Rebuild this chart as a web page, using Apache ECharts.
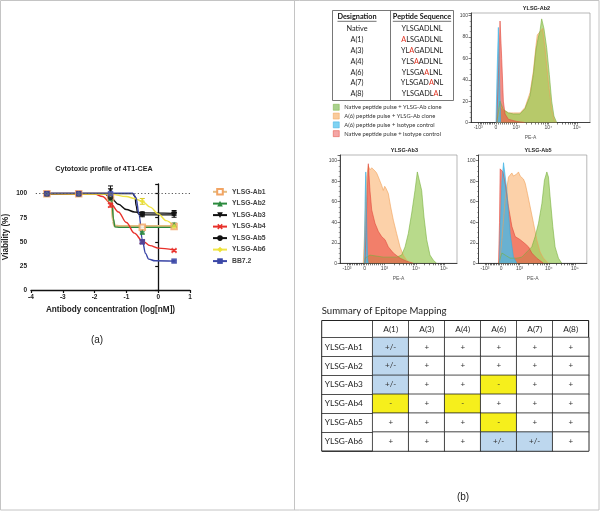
<!DOCTYPE html>
<html><head><meta charset="utf-8">
<script src="https://cdn.jsdelivr.net/npm/echarts@6/dist/echarts.min.js"></script>
<style>html,body{margin:0;padding:0;background:#fff}#c{width:601px;height:512px}</style>
</head><body><div id="c"></div><script>
// ================= DATA: panel (a) =================
const concX = [-3.5, -2.5, -1.5, -0.5, 0.5];
const seriesNames = ['YLSG-Ab1','YLSG-Ab2','YLSG-Ab3','YLSG-Ab4','YLSG-Ab5','YLSG-Ab6','BB7.2'];
const viabAb1 = [100, 100, 96, 65, 66];
const viabAb2 = [100, 100, 95, 60, 68];
const viabAb3 = [100, 100, 103, 78, 78];
const viabAb4 = [100, 100, 88, 50, 41];
const viabAb5 = [100, 100, 96, 79, 80];
const viabAb6 = [100, 100, 99, 92, 66];
const viabBB72 = [100, 100, 100, 50, 30];
const errAb1 = [0, 0, 1, 1.5, 2];
const errAb2 = [0, 0, 1, 1, 1.5];
const errAb3 = [0, 0, 5, 2, 2.5];
const errAb4 = [0, 0, 2, 1.5, 1];
const errAb5 = [0, 0, 1.5, 2, 2.5];
const errAb6 = [0, 0, 1, 3, 1.5];
const errBB72 = [0, 0, 0, 2, 1];
// fitted curves
const curveAb1 = [[-3.5,100],[-1.6,100],[-1.5,99],[-1.46,90],[-1.42,72],[-1.37,66.5],[-1.2,66],[0.5,66]];
const curveAb2 = [[-3.5,100],[-1.6,100],[-1.5,99.5],[-1.45,91],[-1.41,74],[-1.36,65.5],[-1.2,65],[0.5,65]];
const curveAb3 = [[-3.5,100],[-0.8,100],[-0.73,97],[-0.69,87],[-0.65,80],[-0.58,78.3],[-0.4,78],[0.5,78]];
const curveAb4 = [[-3.5,100],[-2,99.5],[-1.75,97],[-1.5,90],[-1.25,81],[-1,70],[-0.75,59],[-0.5,51],[-0.25,46],[0,43.5],[0.5,41.5]];
const curveAb5 = [[-3.5,100],[-1.7,100],[-1.5,96],[-1.25,89],[-1,83.5],[-0.75,81],[-0.5,80],[0.5,79.5]];
const curveAb6 = [[-3.5,100],[-1.5,99.5],[-1,97],[-0.75,95],[-0.5,92],[-0.25,86],[0,79],[0.25,72],[0.5,66]];
const curveBB72 = [[-3.5,100.5],[-0.8,100.5],[-0.7,96],[-0.6,78],[-0.5,52],[-0.4,38],[-0.3,32],[-0.1,30.3],[0.5,30]];
const yTicksA = [0, 25, 50, 75, 100];
const xTicksA = [-4, -3, -2, -1, 0, 1];

// ================= DATA: panel (b) peptides =================
const designations = ['Native','A(1)','A(3)','A(4)','A(6)','A(7)','A(8)'];
const sequences = ['YLSGADLNL','ALSGADLNL','YLAGADLNL','YLSAADLNL','YLSGAALNL','YLSGADANL','YLSGADLAL'];
const mutatedPos = [-1, 0, 2, 3, 5, 6, 7];

// ================= DATA: flow histograms (x = display position 0-100 on biexponential PE-A axis, y = % of max) =================
const flowNames = ['Native peptide pulse + YLSG-Ab clone','A(6) peptide pulse + YLSG-Ab clone','A(6) peptide pulse + isotype control','Native peptide pulse + isotype control'];
const peTickLabels = ['-10³','0','10³','10⁴','10⁵'];
const peTickPos = [6, 21, 38, 65, 89];
const histTitles = ['YLSG-Ab2','YLSG-Ab3','YLSG-Ab5'];
const ab2Green = [[21.6,0],[23.0,10],[24.4,20],[27.2,12],[31.4,9],[35.6,8],[41.2,8],[45.4,13],[49.6,25],[52.4,45],[54.6,68],[56.6,80],[58.0,86],[59.4,97],[61.3,88],[63.6,70],[65.8,45],[67.8,20],[69.7,6],[72.0,0]];
const ab2Orange = [[21.6,0],[23.0,8],[24.4,15],[27.2,12],[31.4,9],[35.6,9],[41.2,9],[45.4,14],[49.6,28],[52.4,48],[54.6,72],[55.7,82],[58.0,85],[60.2,88],[62.2,70],[65.0,38],[67.8,12],[70.0,2],[71.5,0]];
const ab2Blue = [[21.0,0],[22.0,50],[23.0,89],[24.0,40],[24.9,0]];
const ab2Red = [[21.6,0],[23.5,60],[24.4,95],[25.8,60],[27.2,20],[28.6,8],[31.4,3],[38.4,1],[45.0,0]];
const ab3Green = [[20.8,0],[21.4,5],[25.6,8],[37.0,6],[48.4,6],[52.7,8],[55.6,16],[58.4,29],[61.3,49],[64.1,71],[66.1,89],[67.8,89],[69.8,71],[71.8,45],[74.1,23],[76.9,8],[79.8,3],[82.6,0]];
const ab3Orange = [[19.9,0],[21.4,40],[22.8,84],[24.2,95],[25.6,91],[27.1,93],[28.5,94],[29.9,90],[31.3,88],[32.8,84],[34.2,80],[35.6,76],[37.0,71],[38.2,75],[39.3,73],[40.3,74],[41.3,68],[43.3,55],[45.6,42],[48.4,29],[51.3,16],[54.1,8],[57.0,3],[59.8,0]];
const ab3Blue = [[20.8,0],[21.4,60],[22.0,89],[22.8,40],[23.5,5],[24.2,0]];
const ab3Red = [[21.4,0],[23.0,60],[24.2,97],[25.6,71],[27.1,52],[29.9,39],[32.8,31],[35.6,26],[38.5,23],[41.3,16],[45.6,10],[51.3,5],[57.0,2],[62.7,0]];
const ab5Green = [[18.5,0],[21.6,10],[24.6,8],[29.2,5],[35.4,5],[40.0,6],[44.6,11],[49.2,16],[52.3,26],[55.4,39],[58.5,58],[60.9,81],[63.1,89],[64.6,84],[66.1,65],[68.6,36],[70.7,16],[73.8,5],[76.9,0]];
const ab5Orange = [[19.4,0],[21.6,23],[24.6,62],[27.7,84],[30.8,88],[32.3,85],[33.9,84],[35.4,87],[36.9,89],[38.5,85],[40.0,86],[41.5,82],[43.1,78],[45.2,68],[47.7,55],[50.8,39],[53.8,23],[56.9,11],[60.0,5],[64.6,0]];
const ab5Blue = [[19.4,0],[20.0,30],[21.6,80],[23.1,98],[24.6,85],[26.2,71],[29.2,29],[32.3,6],[35.4,0]];
const ab5Red = [[18.5,0],[19.4,40],[20.0,92],[22.5,89],[24.6,78],[27.7,55],[30.8,36],[33.9,26],[38.5,23],[43.1,19],[46.2,16],[49.2,10],[53.8,5],[60.0,0]];

// ================= DATA: epitope mapping table =================
const mutantCols = ['A(1)','A(3)','A(4)','A(6)','A(7)','A(8)'];
const abRows = ['YLSG-Ab1','YLSG-Ab2','YLSG-Ab3','YLSG-Ab4','YLSG-Ab5','YLSG-Ab6'];
const rowAb1 = ['+/-','+','+','+','+','+'];
const rowAb2 = ['+/-','+','+','+','+','+'];
const rowAb3 = ['+/-','+','+','-','+','+'];
const rowAb4 = ['-','+','-','+','+','+'];
const rowAb5 = ['+','+','+','-','+','+'];
const rowAb6 = ['+','+','+','+/-','+/-','+'];

// ================= BUILD =================
const chart = echarts.init(document.getElementById('c'), null, {renderer:'canvas'});
const FA = 'Liberation Sans';
const FB = 'Lato';

const points = [viabAb1,viabAb2,viabAb3,viabAb4,viabAb5,viabAb6,viabBB72];
const errs = [errAb1,errAb2,errAb3,errAb4,errAb5,errAb6,errBB72];
const curves = [curveAb1,curveAb2,curveAb3,curveAb4,curveAb5,curveAb6,curveBB72];
const colA = ['#f2a463','#2b8a3e','#111111','#e8302a','#111111','#ece23a','#3a46a6'];
const curveCol = ['#e3bd82','#2b8a3e','#111111','#e8302a','#111111','#f0e445','#3a46a6'];
const curveW = [2.6,1.4,1.4,1.4,1.4,1.4,1.4];
const xShape = 'path://M0,2 L2,0 L5,3 L8,0 L10,2 L7,5 L10,8 L8,10 L5,7 L2,10 L0,8 L3,5Z';
const symA = ['emptyRect','triangle','triangle',xShape,'circle','diamond','rect'];
const rotA = [0,0,180,0,0,0,0];

const series = [];
seriesNames.forEach((nm,i)=>{
  const s = {type:'line', name:nm, xAxisIndex:0, yAxisIndex:0, data:curves[i], smooth:0.35, smoothMonotone:'x',
    symbol:symA[i], symbolRotate:rotA[i], symbolSize:5, showSymbol:false,
    lineStyle:{color:curveCol[i], width:curveW[i]}, itemStyle:{color:colA[i]}, z:2, silent:true};
  if(i===0){
    s.markLine = {silent:true, symbol:'none', label:{show:false}, lineStyle:{type:[1.2,2.2], color:'#555', width:1},
      data:[[{coord:[-3.85,100]},{coord:[1,100]}]]};
  }
  series.push(s);
});
seriesNames.forEach((nm,i)=>{
  series.push({type:'custom', name:'err'+i, xAxisIndex:0, yAxisIndex:0, silent:true, z:3,
    data: concX.map((x,j)=>[x, points[i][j]-errs[i][j], points[i][j]+errs[i][j]]).filter((d,j)=>errs[i][j]>0),
    renderItem:(params, api)=>{
      const x=api.value(0), lo=api.value(1), hi=api.value(2);
      const p1=api.coord([x,hi]), p2=api.coord([x,lo]);
      const st={stroke:colA[i]==='#ece23a'?'#d8c820':colA[i], lineWidth:1};
      return {type:'group', children:[
        {type:'line', shape:{x1:p1[0],y1:p1[1],x2:p2[0],y2:p2[1]}, style:st},
        {type:'line', shape:{x1:p1[0]-2.5,y1:p1[1],x2:p1[0]+2.5,y2:p1[1]}, style:st},
        {type:'line', shape:{x1:p2[0]-2.5,y1:p2[1],x2:p2[0]+2.5,y2:p2[1]}, style:st}]};
    }});
});
seriesNames.forEach((nm,i)=>{
  series.push({type:'scatter', name:nm, xAxisIndex:0, yAxisIndex:0, data:concX.map((x,j)=>[x, points[i][j]]),
    symbol:symA[i], symbolRotate:rotA[i], symbolSize: i===3?6:5.5, itemStyle:{color:colA[i], borderColor:colA[i], borderWidth: i===0?1.3:0}, z:4, silent:true});
});

// histograms
const flowFill = ['rgba(140,196,68,0.62)','rgba(250,172,98,0.55)','rgba(70,190,235,0.8)','rgba(238,88,76,0.68)'];
const flowLine = ['#79b03e','#f0a055','#38ade0','#e0483a'];
const flowLegendFill = ['#a9d18e','#f9cb9c','#7fd3f2','#f4a6a6'];
const histData = [
  [ab2Green, ab2Orange, ab2Blue, ab2Red],
  [ab3Green, ab3Orange, ab3Blue, ab3Red],
  [ab5Green, ab5Orange, ab5Blue, ab5Red]
];
const drawOrder = [1,0,3,2];
histData.forEach((set,h)=>{
  drawOrder.forEach(k=>{
    series.push({type:'line', name:flowNames[k], xAxisIndex:h+1, yAxisIndex:h+1, data:set[k], showSymbol:false, symbol:'none',
      lineStyle:{color:flowLine[k], width:0.6}, areaStyle:{color:flowFill[k], opacity:1}, itemStyle:{color:flowLegendFill[k]}, silent:true});
  });
});

// heatmap table
const tableRows = [rowAb1,rowAb2,rowAb3,rowAb4,rowAb5,rowAb6];
const codeText = ['+','+/-','-'];
const heatData = [];
tableRows.forEach((row,r)=>row.forEach((v,c)=>heatData.push([c, r, codeText.indexOf(v)])));
const heatIdx = series.length;
series.push({type:'heatmap', xAxisIndex:4, yAxisIndex:4, data:heatData, silent:true,
  label:{show:true, formatter:p=>codeText[p.value[2]], fontSize:8, color:'#333', fontFamily:FB},
  itemStyle:{borderColor:'#222', borderWidth:0.8}, emphasis:{disabled:true}});

// minor ticks for PE-A axis
const peMinor = [];
for(let k=1;k<=9;k++){ peMinor.push(peTickPos[1]-(peTickPos[1]-peTickPos[0])*k/10); peMinor.push(peTickPos[1]+(peTickPos[2]-peTickPos[1])*k/10); }
for(let k=2;k<=9;k++){ peMinor.push(peTickPos[2]+(peTickPos[3]-peTickPos[2])*Math.log10(k)); peMinor.push(peTickPos[3]+(peTickPos[4]-peTickPos[3])*Math.log10(k)); }
const peAllTicks = peTickPos.concat(peMinor).sort((a,b)=>a-b);

const histGrids = [
  {left:471, top:13, width:119, height:109.5, ymax:102.5},
  {left:340, top:155, width:117, height:108.3, ymax:105.5},
  {left:478.5, top:155, width:108.3, height:108.3, ymax:105.5}
];
const grids = [{left:31, top:184, width:159, height:106}];
histGrids.forEach(g=>grids.push({left:g.left, top:g.top, width:g.width, height:g.height, show:true, borderColor:'#9a9a9a', borderWidth:0.7}));
grids.push({left:372.7, top:337.5, width:216, height:113.5});

const xAxes = [{type:'value', gridIndex:0, min:-4, max:1, interval:1,
  name:'Antibody concentration (log[nM])', nameLocation:'middle', nameGap:16,
  nameTextStyle:{fontSize:8.2, fontWeight:'bold', fontFamily:FA, color:'#222'},
  axisLine:{lineStyle:{color:'#111', width:1.3}}, axisTick:{length:3, lineStyle:{color:'#111', width:1.2}},
  axisLabel:{fontSize:6.5, fontWeight:'bold', color:'#222', fontFamily:FA, margin:4, formatter:v=>xTicksA.indexOf(v)>=0?String(v):''},
  splitLine:{show:false}}];
const yAxes = [{type:'value', gridIndex:0, min:0, max:110, interval:25,
  name:'Viability (%)', nameLocation:'middle', nameGap:21,
  nameTextStyle:{fontSize:8.2, fontWeight:'bold', fontFamily:FA, color:'#222'},
  axisLine:{show:true, lineStyle:{color:'#111', width:1.3}}, axisTick:{show:true, length:3, lineStyle:{color:'#111', width:1.2}},
  axisLabel:{fontSize:6.5, fontWeight:'bold', color:'#222', fontFamily:FA, margin:4, formatter:v=>yTicksA.indexOf(v)>=0?String(v):''},
  splitLine:{show:false}}];
histGrids.forEach((g,h)=>{
  xAxes.push({type:'value', gridIndex:h+1, min:0, max:100, name:'PE-A', nameLocation:'middle', nameGap:13,
    nameTextStyle:{fontSize:5, color:'#555', fontFamily:FA},
    axisLine:{onZero:false, lineStyle:{color:'#222', width:0.8}},
    axisTick:{customValues:peAllTicks, length:2, lineStyle:{color:'#222', width:0.6}},
    axisLabel:{customValues:peTickPos, fontSize:5, color:'#444', margin:3, fontFamily:FA, formatter:v=>{const i=peTickPos.indexOf(v); return i>=0?peTickLabels[i]:'';}},
    splitLine:{show:false}});
  yAxes.push({type:'value', gridIndex:h+1, min:0, max:g.ymax, interval:20,
    axisLine:{show:true, onZero:false, lineStyle:{color:'#222', width:0.8}},
    axisTick:{show:true, length:2.5, lineStyle:{color:'#222', width:0.6}},
    minorTick:{show:true, splitNumber:4, length:1.3, lineStyle:{color:'#444', width:0.5}},
    axisLabel:{fontSize:5, color:'#444', margin:3, fontFamily:FA, formatter:v=>(v%20===0&&v<=100)?String(v):''},
    splitLine:{show:false}});
});
xAxes.push({type:'category', gridIndex:4, position:'top', data:mutantCols,
  axisLine:{show:false}, axisTick:{show:true, interval:0, length:17, lineStyle:{color:'#222', width:0.8}},
  axisLabel:{fontSize:8.3, color:'#222', margin:4.5, fontFamily:FB}, splitLine:{show:false}});
yAxes.push({type:'category', gridIndex:4, inverse:true, data:abRows,
  axisLine:{show:false}, axisTick:{show:true, interval:0, length:51, lineStyle:{color:'#222', width:0.8}},
  axisLabel:{fontSize:8.3, color:'#222', margin:48, align:'left', fontFamily:FB}, splitLine:{show:false}});

// graphics
const graphics = [];
graphics.push({type:'rect', shape:{x:0.5,y:0.5,width:598.5,height:509.5}, style:{fill:'none', stroke:'#c4c4c4', lineWidth:1}, silent:true});
graphics.push({type:'line', shape:{x1:294.5,y1:0,x2:294.5,y2:510}, style:{stroke:'#c4c4c4', lineWidth:1}, silent:true});
graphics.push({type:'text', x:104, y:169, style:{text:'Cytotoxic profile of 4T1-CEA', font:'bold 7.2px "Liberation Sans"', fill:'#222', align:'center', verticalAlign:'middle'}, silent:true});
graphics.push({type:'text', x:97, y:340, style:{text:'(a)', font:'10px "Liberation Sans"', fill:'#222', align:'center', verticalAlign:'middle'}, silent:true});
graphics.push({type:'text', x:463, y:497, style:{text:'(b)', font:'10px "Liberation Sans"', fill:'#222', align:'center', verticalAlign:'middle'}, silent:true});
graphics.push({type:'text', x:321.7, y:311, style:{text:'Summary of Epitope Mapping', font:'9.6px Lato', fill:'#222', align:'left', verticalAlign:'middle'}, silent:true});
graphics.push({type:'rect', shape:{x:321.7,y:320.5,width:267,height:130.5}, style:{fill:'none', stroke:'#222', lineWidth:1}, silent:true});
// histogram titles
histGrids.forEach((g,h)=>{
  graphics.push({type:'text', x:g.left+g.width*0.55, y:g.top-4.5, style:{text:histTitles[h], font:'bold 5.5px "Liberation Sans"', fill:'#222', align:'center', verticalAlign:'middle'}, silent:true});
});
// peptide table
const measure = (()=>{const c=document.createElement('canvas').getContext('2d'); return (t,f)=>{c.font=f; return c.measureText(t).width;};})();
graphics.push({type:'rect', shape:{x:332.5,y:10.5,width:121,height:90}, style:{fill:'none', stroke:'#555', lineWidth:0.8}, silent:true});
graphics.push({type:'line', shape:{x1:390.5,y1:10.5,x2:390.5,y2:100.5}, style:{stroke:'#555', lineWidth:0.8}, silent:true});
const hdrFont = 'bold 7.3px Lato';
[['Designation',357],['Peptide Sequence',422]].forEach(([t,cx])=>{
  const w = measure(t, hdrFont);
  graphics.push({type:'text', x:cx, y:17, style:{text:t, font:hdrFont, fill:'#111', align:'center', verticalAlign:'middle'}, silent:true});
  graphics.push({type:'line', shape:{x1:cx-w/2,y1:21.3,x2:cx+w/2,y2:21.3}, style:{stroke:'#111', lineWidth:0.6}, silent:true});
});
const rowY0 = 29, rowStep = 10.8;
designations.forEach((d,i)=>{
  const y = rowY0 + i*rowStep;
  graphics.push({type:'text', x:357, y:y, style:{text:d, font:'7.3px Lato', fill:'#222', align:'center', verticalAlign:'middle'}, silent:true});
  const s = sequences[i], p = mutatedPos[i];
  let rt;
  if(p<0) rt = '{n|'+s+'}';
  else rt = (p>0?'{n|'+s.slice(0,p)+'}':'') + '{r|'+s[p]+'}' + (p<s.length-1?'{n|'+s.slice(p+1)+'}':'');
  graphics.push({type:'text', x:422, y:y, style:{text:rt, align:'center', verticalAlign:'middle',
    rich:{n:{fontSize:7.3, fontFamily:'Lato', fill:'#222', color:'#222'}, r:{fontSize:7.3, fontFamily:'Lato', fill:'#e0301e', color:'#e0301e'}}}, silent:true});
});

const option = {
  animation:false,
  backgroundColor:'#ffffff',
  grid:grids, xAxis:xAxes, yAxis:yAxes, series:series,
  legend:[
    {data:seriesNames, orient:'vertical', left:212, top:188, padding:0, itemWidth:14, itemHeight:7, itemGap:4.5, selectedMode:false,
      textStyle:{fontSize:6.8, fontWeight:'bold', color:'#444', fontFamily:FA}},
    {data:flowNames.map((n,k)=>({name:n, icon:'rect', itemStyle:{color:flowLegendFill[k], borderColor:flowLine[k], borderWidth:0.5}})),
      orient:'vertical', left:333, top:104, padding:0, itemWidth:6, itemHeight:6, itemGap:2.3, itemStyle:{}, selectedMode:false,
      textStyle:{fontSize:5.8, color:'#333', fontFamily:FB}}
  ],
  visualMap:[{type:'piecewise', show:false, seriesIndex:heatIdx, dimension:2,
    pieces:[{value:0, color:'#ffffff'},{value:1, color:'#bdd7ee'},{value:2, color:'#f6ef1c'}]}],
  graphic:graphics
};
chart.setOption(option);
</script></body></html>
